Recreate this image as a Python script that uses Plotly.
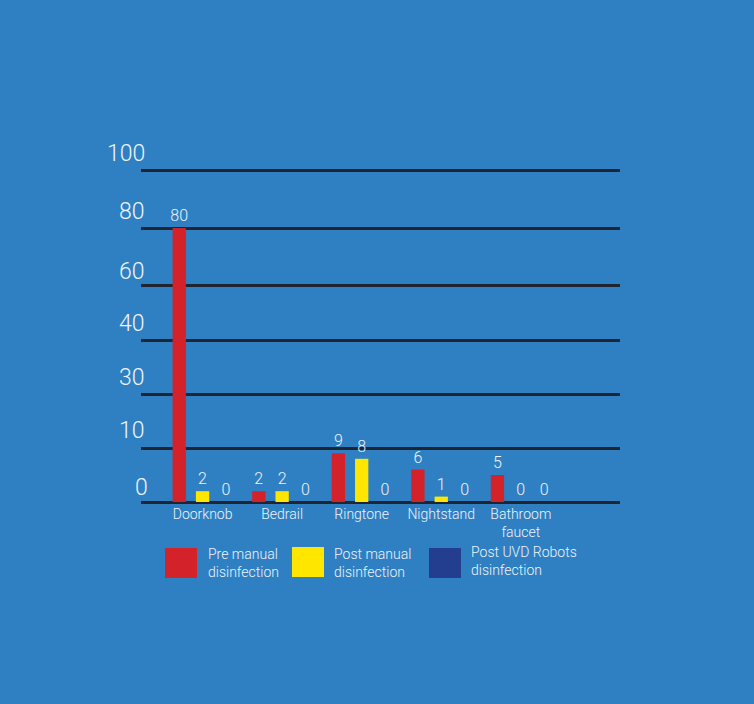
import numpy as np
import plotly.graph_objects as go

categories = ["Doorknob", "Bedrail", "Ringtone", "Nightstand", "Bathroom<br>faucet"]
pre_manual = [80, 2, 9, 6, 5]
post_manual = [2, 2, 8, 1, 0]
post_uvd = [0, 0, 0, 0, 0]
series_names = ["Pre manual<br>disinfection", "Post manual<br>disinfection", "Post UVD Robots<br>disinfection"]
series_colors = ["#d3222a", "#ffe600", "#233e8e"]
tick_values = [0, 10, 30, 40, 60, 80, 100]

BG = "#2e80c2"
TXT = "#eef3fa"
FONT = "Roboto"

# The infographic places its uneven tick values on (nearly) evenly spaced
# gridlines: a piecewise-linear scale maps each value to a gridline position.
tick_pos = [0, 1, 2, 3, 4, 5.074, 6.148]
label_shift = [15, 18, 17, 17, 14, 17, 17]


def scale(v):
    return np.interp(v, tick_values, tick_pos)


fig = go.Figure()
for name, vals, col in zip(series_names, [pre_manual, post_manual, post_uvd], series_colors):
    fig.add_trace(go.Bar(
        x=categories, y=scale(vals), name=name,
        marker=dict(color=col, line=dict(width=0)),
        text=[str(v) for v in vals], textposition="outside",
        constraintext="none",
        textfont=dict(family=FONT, size=16, color=TXT, weight=300),
        cliponaxis=False, showlegend=False,
    ))

annotations = []
# y tick labels placed above gridlines
for v, p, s in zip(tick_values, tick_pos, label_shift):
    annotations.append(dict(
        x=0.0125 if v != 0 else 0.019, xref="paper", y=p, yref="y",
        text=str(v), showarrow=False, xanchor="right", yanchor="middle",
        yshift=s,
        font=dict(family=FONT, size=23, color=TXT, weight=300),
    ))

# manual legend
W, H = 754, 704
ml, mr, mt, mb = 141, 134, 168, 200
pw, ph = W - ml - mr, H - mt - mb


def px(xp):
    return (xp - ml) / pw


def py(yp):
    return (H - mb - yp) / ph


legend_boxes = [(165, 548, 197, 578), (292, 547, 324, 577), (429, 548, 461, 578)]
legend_text = [(206, 563), (332, 563), (469, 561)]
shapes = []
for (x0, y0, x1, y1), (tx, ty), name, col in zip(legend_boxes, legend_text, series_names, series_colors):
    shapes.append(dict(type="rect", xref="paper", yref="paper",
                       x0=px(x0), x1=px(x1), y0=py(y1), y1=py(y0),
                       fillcolor=col, line=dict(width=0)))
    annotations.append(dict(
        x=px(tx), y=py(ty), xref="paper", yref="paper", text=name,
        showarrow=False, xanchor="left", yanchor="middle", align="left",
        font=dict(family=FONT, size=14, color=TXT, weight=300),
    ))

fig.update_layout(
    width=W, height=H,
    margin=dict(l=ml, r=mr, t=mt, b=mb),
    paper_bgcolor=BG, plot_bgcolor=BG,
    barmode="group", bargap=0.12, bargroupgap=0.43,
    xaxis=dict(range=[-0.774, 5.247], showgrid=False, zeroline=False,
               showline=False, ticks="",
               tickfont=dict(family=FONT, size=14, color=TXT, weight=300)),
    yaxis=dict(range=[-0.037, 6.185], tickvals=tick_pos, showticklabels=False,
               showgrid=True, gridcolor="#1e2430", gridwidth=3,
               zeroline=False, showline=False, ticks=""),
    shapes=shapes, annotations=annotations,
)

fig.write_html("out.html")
